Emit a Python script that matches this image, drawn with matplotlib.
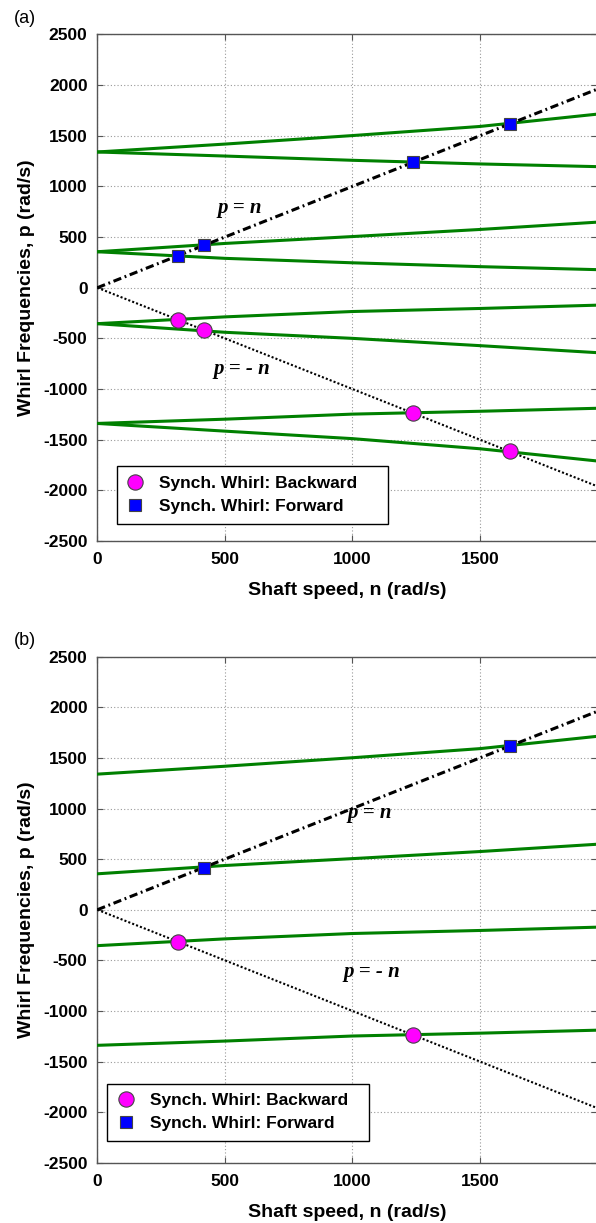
import matplotlib.pyplot as plt
import numpy as np
from matplotlib.lines import Line2D

plt.rcParams['font.family'] = ['Liberation Sans', 'DejaVu Sans']
plt.rcParams['font.weight'] = 'bold'
plt.rcParams['axes.labelweight'] = 'bold'
plt.rcParams['axes.unicode_minus'] = False

# shaft speed points where the curves were read (rad/s)
n_pts = [0, 500, 1000, 1500, 1965]

# whirl frequency branches (rad/s)
fw_hi = [1340, 1418, 1502, 1592, 1715]
bw_hi = [1340, 1300, 1258, 1222, 1195]
fw_lo = [355, 437, 505, 575, 648]
bw_lo = [355, 290, 246, 208, 178]
fw_nlo = [-355, -288, -235, -205, -172]
bw_nlo = [-355, -440, -500, -572, -642]
fw_nhi = [-1340, -1298, -1248, -1220, -1190]
bw_nhi = [-1340, -1416, -1490, -1590, -1712]

# synchronous whirl crossing points
fwd_n_a = [316, 419, 1237, 1620]
fwd_p_a = [316, 417, 1237, 1620]
bwd_n_a = [316, 418, 1237, 1620]
bwd_p_a = [-314, -416, -1234, -1617]

fwd_n_b = [419, 1620]
fwd_p_b = [417, 1620]
bwd_n_b = [316, 1237]
bwd_p_b = [-314, -1234]

n_ref = np.array([0, 1965])

fig = plt.figure(figsize=(5.96, 12.23), dpi=100)
ax_a = fig.add_axes([0.1633, 0.5577, 0.8387, 0.4141])
ax_b = fig.add_axes([0.1633, 0.0493, 0.8387, 0.4137])

green = '#008000'
serif = dict(family='Liberation Serif', fontweight='bold', fontstyle='italic', fontsize=15)


def setup(ax, tag, leg_box):
    ax.set_xlim(0, 1960)
    ax.set_ylim(-2500, 2500)
    ax.set_xticks([0, 500, 1000, 1500])
    ax.set_yticks(np.arange(-2500, 2501, 500))
    ax.grid(True, color='#999999', lw=0.8, linestyle=(0, (1, 2)))
    ax.tick_params(direction='in', top=True, right=True, length=4, width=0.8,
                   color='#555555', labelsize=12.5)
    ax.tick_params(axis='x', pad=8)
    ax.tick_params(axis='y', pad=7)
    for s in ax.spines.values():
        s.set_color('#555555')
        s.set_linewidth(1.0)
    ax.spines['right'].set_visible(False)
    ax.set_xlabel('Shaft speed, n (rad/s)', fontsize=14)
    ax.set_ylabel('Whirl Frequencies, p (rad/s)', fontsize=14)
    ax.xaxis.set_label_coords(0.5, -0.081)
    ax.yaxis.set_label_coords(-0.124, 0.5)
    ax.text(-0.167, 1.015, tag, transform=ax.transAxes, fontsize=13,
            fontweight='normal', ha='left', va='bottom')

    handles = [
        Line2D([], [], ls='none', marker='o', ms=11, mfc='magenta', mec='#444444', mew=0.8),
        Line2D([], [], ls='none', marker='s', ms=8, mfc='blue', mec='#444444', mew=0.8),
    ]
    leg = ax.legend(handles, ['Synch. Whirl: Backward', 'Synch. Whirl: Forward'],
                    loc='lower left', bbox_to_anchor=leg_box, mode='expand',
                    borderaxespad=0, fancybox=False, framealpha=1, edgecolor='black',
                    handlelength=1.0, handletextpad=0.9, borderpad=0.55,
                    labelspacing=0.45, prop=dict(weight='bold', size=12.5))
    leg.get_frame().set_linewidth(1.0)


# panel (a)
for branch in [fw_hi, bw_hi, fw_lo, bw_lo, fw_nlo, bw_nlo, fw_nhi, bw_nhi]:
    ax_a.plot(n_pts, branch, color=green, lw=2.2, zorder=3)
ax_a.plot(n_ref, n_ref, color='black', lw=2.2, ls=(0, (2.7, 1.2, 0.6, 1.2)), zorder=4)
ax_a.plot(n_ref, -n_ref, color='black', lw=1.5, ls=(0, (1, 1)), zorder=4)
ax_a.plot(bwd_n_a, bwd_p_a, ls='none', marker='o', ms=11, mfc='magenta',
          mec='#444444', mew=0.8, zorder=5)
ax_a.plot(fwd_n_a, fwd_p_a, ls='none', marker='s', ms=8, mfc='blue',
          mec='#444444', mew=0.8, zorder=5)
ax_a.text(560, 790, 'p = n', ha='center', va='center', **serif)
ax_a.text(568, -805, 'p = - n', ha='center', va='center', **serif)
setup(ax_a, '(a)', (0.039, 0.034, 0.543, 0.1))

# panel (b)
for branch in [fw_hi, fw_lo, fw_nlo, fw_nhi]:
    ax_b.plot(n_pts, branch, color=green, lw=2.2, zorder=3)
ax_b.plot(n_ref, n_ref, color='black', lw=2.2, ls=(0, (2.7, 1.2, 0.6, 1.2)), zorder=4)
ax_b.plot(n_ref, -n_ref, color='black', lw=1.5, ls=(0, (1, 1)), zorder=4)
ax_b.plot(bwd_n_b, bwd_p_b, ls='none', marker='o', ms=11, mfc='magenta',
          mec='#444444', mew=0.8, zorder=5)
ax_b.plot(fwd_n_b, fwd_p_b, ls='none', marker='s', ms=8, mfc='blue',
          mec='#444444', mew=0.8, zorder=5)
ax_b.text(1070, 960, 'p = n', ha='center', va='center', **serif)
ax_b.text(1078, -620, 'p = - n', ha='center', va='center', **serif)
setup(ax_b, '(b)', (0.02, 0.043, 0.523, 0.1))

fig.savefig('out.png', dpi=100)
